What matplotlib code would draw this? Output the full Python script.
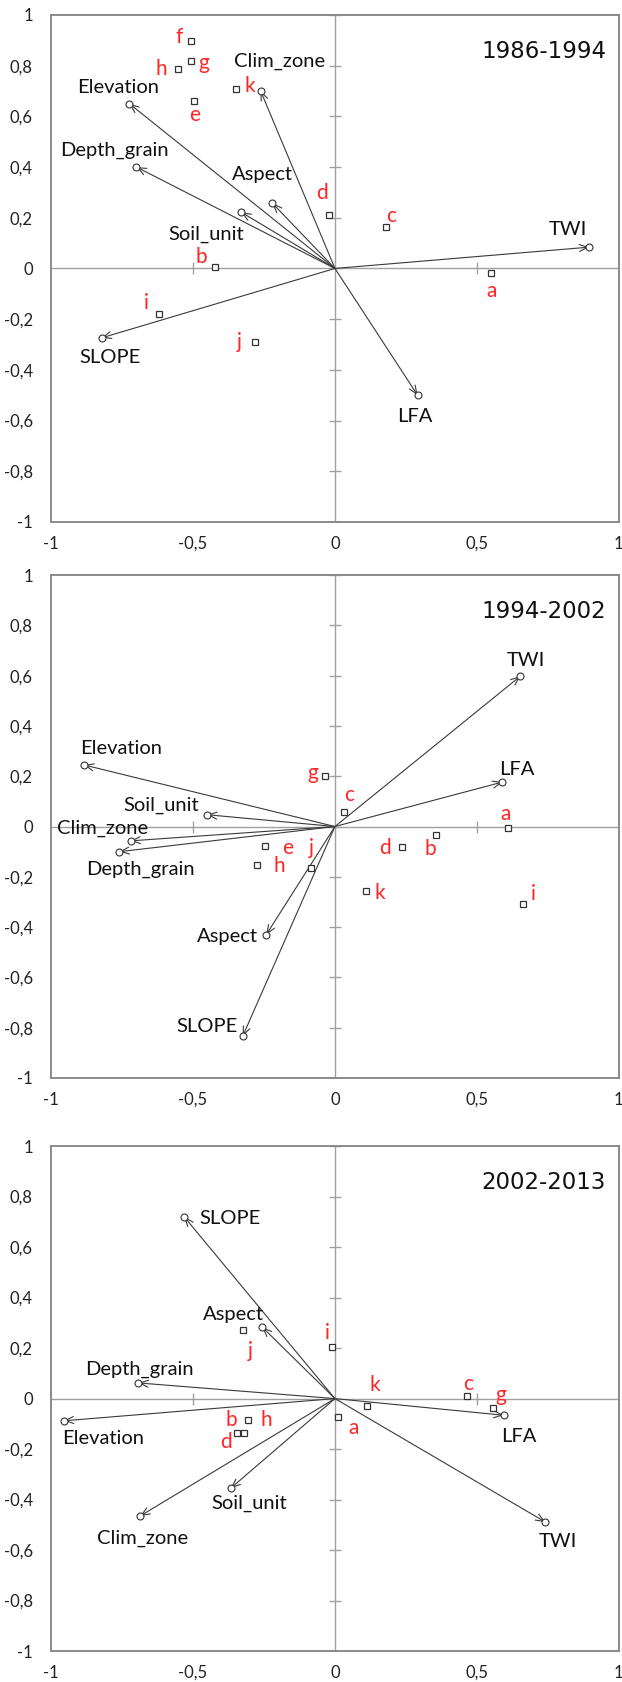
import matplotlib
matplotlib.use("Agg")
import matplotlib.pyplot as plt

plt.rcParams['font.family'] = ['Lato', 'DejaVu Sans']

# variable loadings (arrows) per period
vars_1 = ['Elevation', 'Clim_zone', 'Depth_grain', 'Aspect', 'Soil_unit', 'TWI', 'SLOPE', 'LFA']
vx_1 = [-0.724, -0.262, -0.699, -0.220, -0.330, 0.895, -0.822, 0.291]
vy_1 = [0.650, 0.701, 0.400, 0.257, 0.222, 0.084, -0.274, -0.500]

vars_2 = ['Elevation', 'Clim_zone', 'Depth_grain', 'Aspect', 'Soil_unit', 'TWI', 'SLOPE', 'LFA']
vx_2 = [-0.884, -0.720, -0.759, -0.242, -0.450, 0.653, -0.325, 0.590]
vy_2 = [0.245, -0.057, -0.100, -0.430, 0.047, 0.598, -0.834, 0.177]

vars_3 = ['Elevation', 'Clim_zone', 'Depth_grain', 'Aspect', 'Soil_unit', 'TWI', 'SLOPE', 'LFA']
vx_3 = [-0.955, -0.686, -0.692, -0.256, -0.367, 0.741, -0.531, 0.594]
vy_3 = [-0.088, -0.465, 0.062, 0.283, -0.355, -0.489, 0.720, -0.066]

# site scores (squares)
sites_1 = ['a', 'b', 'c', 'd', 'e', 'f', 'g', 'h', 'i', 'j', 'k']
sx_1 = [0.550, -0.421, 0.179, -0.021, -0.498, -0.506, -0.506, -0.554, -0.621, -0.283, -0.347]
sy_1 = [-0.016, 0.007, 0.163, 0.209, 0.662, 0.897, 0.820, 0.787, -0.181, -0.292, 0.707]

sites_2 = ['a', 'b', 'c', 'd', 'e', 'g', 'h', 'i', 'j', 'k']
sx_2 = [0.609, 0.357, 0.032, 0.235, -0.245, -0.034, -0.275, 0.661, -0.085, 0.109]
sy_2 = [-0.007, -0.033, 0.059, -0.081, -0.079, 0.201, -0.153, -0.307, -0.164, -0.257]

sites_3 = ['a', 'b', 'c', 'd', 'g', 'h', 'i', 'j', 'k']
sx_3 = [0.011, -0.322, 0.465, -0.345, 0.555, -0.305, -0.011, -0.324, 0.112]
sy_3 = [-0.072, -0.135, 0.009, -0.135, -0.037, -0.084, 0.205, 0.270, -0.028]

periods = ['1986-1994', '1994-2002', '2002-2013']

yticks = [-1, -0.8, -0.6, -0.4, -0.2, 0, 0.2, 0.4, 0.6, 0.8, 1]
xticks = [-1, -0.5, 0, 0.5, 1]

# label offsets in points (layout only)
var_off = [
    [(-8, 12), (14, 21), (-16, 12), (-7, 21), (-25, -16), (-15, 13), (6, -14), (-2, -15)],
    [(27, 12), (-20, 9), (15, -13), (-28, -1), (-33, 7), (4, 11), (-26, 7), (10, 9)],
    [(28, -13), (2, -16), (1, 10), (-21, 9), (13, -11), (9, -14), (33, -1), (11, -15)],
]
site_off = [
    [(0, -13), (-10, 7), (4, 8), (-5, 16), (1, -10), (-9, 3), (9, -2), (-12, 0), (-9, 8), (-11, 0), (10, 2)],
    [(-2, 10), (-4, -10), (4, 12), (-12, -1), (16, -1), (-9, 2), (16, -1), (8, 7), (0, 14), (10, -1)],
    [(11, -8), (-9, 9), (1, 9), (-8, -7), (6, 9), (13, 0), (-3, 10), (5, -15), (6, 15)],
]

panels = [
    (vars_1, vx_1, vy_1, sites_1, sx_1, sy_1),
    (vars_2, vx_2, vy_2, sites_2, sx_2, sy_2),
    (vars_3, vx_3, vy_3, sites_3, sx_3, sy_3),
]
# axes rectangles in figure fraction
rects = [
    [0.082, 0.6897, 0.913, 0.3014],
    [0.082, 0.3591, 0.913, 0.2990],
    [0.082, 0.0184, 0.913, 0.3002],
]

def fmt(v):
    s = ('%g' % v).replace('.', ',')
    return '0' if s == '-0' else s

fig = plt.figure(figsize=(6.22, 16.82), dpi=100)
gray = '#8a8a8a'
red = '#ff2525'

for k in range(3):
    names, vx, vy, sites, sx, sy = panels[k]
    ax = fig.add_axes(rects[k])
    ax.set_xlim(-1, 1)
    ax.set_ylim(-1, 1)
    for sp in ax.spines.values():
        sp.set_color(gray)
        sp.set_linewidth(1.4)
    ax.set_xticks(xticks)
    ax.set_xticklabels([fmt(v) for v in xticks])
    ax.set_yticks(yticks)
    ax.set_yticklabels([fmt(v) for v in yticks])
    ax.tick_params(length=0, labelsize=12, colors='#222222')
    ax.tick_params(axis='x', pad=10)
    ax.tick_params(axis='y', pad=13)

    # axis cross through origin with tick marks
    ax.axhline(0, color='#a0a0a0', lw=1.0, zorder=1)
    ax.axvline(0, color='#a0a0a0', lw=1.0, zorder=1)
    ax.plot([0] * len(yticks), yticks, ls='none', marker='_', ms=9, mew=1.0, color='#a0a0a0', zorder=1)
    ax.plot([-0.5, 0.5], [0, 0], ls='none', marker='|', ms=9, mew=1.0, color='#a0a0a0', zorder=1)

    # arrows
    for i in range(len(names)):
        ax.annotate('', xy=(vx[i], vy[i]), xytext=(0, 0),
                    arrowprops=dict(arrowstyle='->,head_length=0.6,head_width=0.25',
                                    color='#3a3a3a', lw=0.8, shrinkA=0, shrinkB=0), zorder=3)
        ax.annotate(names[i], xy=(vx[i], vy[i]), xytext=var_off[k][i], textcoords='offset points',
                    ha='center', va='center', fontsize=14.5, color='#111111', zorder=5)
    ax.plot(vx, vy, ls='none', marker='o', ms=5, mfc='white', mec='#333333', mew=0.8, zorder=4)

    # sites
    ax.plot(sx, sy, ls='none', marker='s', ms=5, mfc='white', mec='#333333', mew=0.9, zorder=4)
    for i in range(len(sites)):
        ax.annotate(sites[i], xy=(sx[i], sy[i]), xytext=site_off[k][i], textcoords='offset points',
                    ha='center', va='center', fontsize=15, color=red, zorder=5)

    ax.text(0.868, 0.928, periods[k], transform=ax.transAxes, ha='center', va='center',
            fontsize=16.5, family=['DejaVu Sans'], color='#111111')

fig.savefig('out.png', dpi=100)
